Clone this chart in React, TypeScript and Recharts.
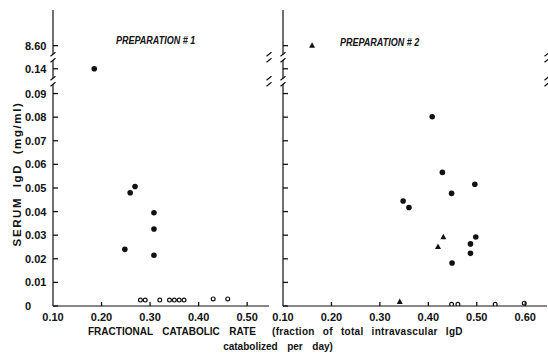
// Serum IgD vs fractional catabolic rate, two preparations. Broken y axis (0.14 and 8.60 squeezed on top).
import React from 'react'
import { ScatterChart, Scatter, XAxis, YAxis, ReferenceDot } from 'recharts'

// preparation #1
const p1FilledX = [0.185, 0.259, 0.269, 0.248, 0.308, 0.308, 0.308]
const p1FilledY = [0.14, 0.048, 0.0506, 0.024, 0.0395, 0.0326, 0.0215]
const p1OpenX = [0.28, 0.29, 0.32, 0.34, 0.35, 0.36, 0.37, 0.43, 0.46]
const p1OpenY = [0.0025, 0.0025, 0.0025, 0.0025, 0.0025, 0.0025, 0.0025, 0.003, 0.003]

// preparation #2
const p2FilledX = [0.408, 0.429, 0.496, 0.448, 0.348, 0.36, 0.498, 0.487, 0.487, 0.449]
const p2FilledY = [0.0802, 0.0566, 0.0516, 0.0477, 0.0445, 0.0417, 0.0292, 0.0263, 0.0223, 0.0182]
const p2TriX = [0.16, 0.431, 0.42, 0.341]
const p2TriY = [8.6, 0.0292, 0.0251, 0.0018]
const p2OpenX = [0.448, 0.461, 0.538, 0.598]
const p2OpenY = [0.0007, 0.0007, 0.0007, 0.0012]

const yTickValues = [0, 0.01, 0.02, 0.03, 0.04, 0.05, 0.06, 0.07, 0.08, 0.09, 0.14, 8.6]
const yTickLabels = ['0', '0.01', '0.02', '0.03', '0.04', '0.05', '0.06', '0.07', '0.08', '0.09', '0.14', '8.60']
const x1Ticks = [0.1, 0.2, 0.3, 0.4, 0.5]
const x2Ticks = [0.1, 0.2, 0.3, 0.4, 0.5, 0.6]

// broken scale: linear up to 0.09, then two short pieces for 0.14 and 8.60
function toAxis(v: number) {
  if (v <= 0.09) return v
  if (v < 1) return 0.1005 + (v - 0.14)
  return 0.1103 + (v - 8.6) * 0.01
}
const yTicks = yTickValues.map(toAxis)
const yBreaks = [(toAxis(0.09) + toAxis(0.14)) / 2, (toAxis(0.14) + toAxis(8.6)) / 2]
const yDomain = [0, 0.1254]

const pts = (xs: number[], ys: number[]) => xs.map((x, i) => ({ x, y: toAxis(ys[i]) }))

const INK = '#111'
const FONT = '"Liberation Sans", Arial, sans-serif'
const TICK_W = 1.3

const Dot = (p: any) => <circle cx={p.cx} cy={p.cy} r={2.8} fill={INK} />
const Ring = (p: any) => <circle cx={p.cx} cy={p.cy} r={1.9} fill="#fff" stroke={INK} strokeWidth={1.2} />
const Tri = (p: any) => (
  <path d={`M${p.cx},${p.cy - 3.3}L${p.cx + 3},${p.cy + 2.2}L${p.cx - 3},${p.cy + 2.2}Z`} fill={INK} />
)
const BreakMark = (p: any) => (
  <g>
    <rect x={p.cx - 3} y={p.cy - 3} width={6} height={6} fill="#fff" />
    <path d={`M${p.cx - 2.5},${p.cy - 1}L${p.cx + 2.5},${p.cy - 5}M${p.cx - 2.5},${p.cy + 5}L${p.cx + 2.5},${p.cy + 1}`}
      stroke={INK} strokeWidth={1.2} fill="none" />
  </g>
)

// tick renderers draw the inward tick line themselves (plus the label where needed)
const makeLeftTick = (labels: boolean) => (p: any) => {
  const i = yTicks.indexOf(p.payload.value)
  return (
    <g>
      <line x1={p.x + 3} x2={p.x + 8} y1={p.y} y2={p.y} stroke={INK} strokeWidth={TICK_W} />
      {labels && (
        <text x={p.x - 25} y={p.y} dy={4} fontSize={11} fontWeight="bold" fontFamily={FONT} fill={INK} textAnchor="start">
          {yTickLabels[i]}
        </text>
      )}
    </g>
  )
}
const RightTick = (p: any) => (
  <line x1={p.x - 5} x2={p.x} y1={p.y} y2={p.y} stroke={INK} strokeWidth={TICK_W} />
)
const TopTick = (p: any) =>
  p.index === 0 ? <g /> : <line x1={p.x} x2={p.x} y1={p.y} y2={p.y + 4} stroke={INK} strokeWidth={TICK_W} />
const BottomTick = (p: any) => (
  <g>
    {p.index > 0 && <line x1={p.x} x2={p.x} y1={p.y - 7} y2={p.y - 11} stroke={INK} strokeWidth={TICK_W} />}
    <text x={p.x} y={p.y} dy={8} fontSize={11} fontWeight="bold" fontFamily={FONT} fill={INK} textAnchor="middle">
      {p.payload.value.toFixed(2)}
    </text>
  </g>
)

const axisLine = { stroke: INK, strokeWidth: 1.2 }

function Panel({ left, width, rightMargin, yWidth, xDomain, xTicks, labels, children }: any) {
  return (
    <div style={{ position: 'absolute', left, top: 0 }}>
      <ScatterChart width={width} height={353} margin={{ top: 10, right: rightMargin, bottom: 0, left: 0 }}>
        <XAxis xAxisId="b" type="number" dataKey="x" domain={xDomain} ticks={xTicks} allowDataOverflow interval={0}
          tickSize={0} tickMargin={7} height={47} axisLine={axisLine} tickLine={false} tick={BottomTick} />
        <XAxis xAxisId="t" orientation="top" type="number" dataKey="x" domain={xDomain} ticks={xTicks}
          allowDataOverflow interval={0} height={0} tickSize={0} tickMargin={0} axisLine={axisLine} tickLine={false}
          tick={TopTick} />
        <YAxis yAxisId="l" type="number" dataKey="y" domain={yDomain} ticks={yTicks} allowDataOverflow interval={0}
          width={yWidth} tickSize={0} tickMargin={3} axisLine={axisLine} tickLine={false} tick={makeLeftTick(labels)} />
        <YAxis yAxisId="r" orientation="right" type="number" dataKey="y" domain={yDomain} ticks={yTicks}
          allowDataOverflow interval={0} width={0} tickSize={0} tickMargin={0} axisLine={axisLine} tickLine={false}
          tick={RightTick} />
        {children}
        {yBreaks.map(b => [
          <ReferenceDot key={'l' + b} xAxisId="b" yAxisId="l" x={xDomain[0]} y={b} shape={BreakMark} ifOverflow="visible" />,
          <ReferenceDot key={'r' + b} xAxisId="b" yAxisId="l" x={xDomain[1]} y={b} shape={BreakMark} ifOverflow="visible" />,
        ])}
      </ScatterChart>
    </div>
  )
}

export default function App() {
  const txt = { position: 'absolute' as const, fontFamily: FONT, color: INK, fontWeight: 'bold' as const, whiteSpace: 'pre' as const }
  return (
    <div style={{ position: 'absolute', left: 0, top: 0, width: 548, height: 353, background: '#fff', overflow: 'hidden' }}>
      <Panel left={0} width={275} rightMargin={6} yWidth={53} xDomain={[0.1, 0.545]} xTicks={x1Ticks} labels>
        <Scatter xAxisId="b" yAxisId="l" data={pts(p1FilledX, p1FilledY)} shape={Dot} isAnimationActive={false} />
        <Scatter xAxisId="b" yAxisId="l" data={pts(p1OpenX, p1OpenY)} shape={Ring} isAnimationActive={false} />
      </Panel>
      <Panel left={255} width={293} rightMargin={1} yWidth={28} xDomain={[0.1, 0.645]} xTicks={x2Ticks} labels={false}>
        <Scatter xAxisId="b" yAxisId="l" data={pts(p2FilledX, p2FilledY)} shape={Dot} isAnimationActive={false} />
        <Scatter xAxisId="b" yAxisId="l" data={pts(p2TriX, p2TriY)} shape={Tri} isAnimationActive={false} />
        <Scatter xAxisId="b" yAxisId="l" data={pts(p2OpenX, p2OpenY)} shape={Ring} isAnimationActive={false} />
      </Panel>

      <div style={{ ...txt, left: 116, top: 35, fontSize: 10, fontStyle: 'italic', transform: 'scaleX(0.9)', transformOrigin: 'left' }}>PREPARATION # 1</div>
      <div style={{ ...txt, left: 340, top: 37, fontSize: 10, fontStyle: 'italic', transform: 'scaleX(0.9)', transformOrigin: 'left' }}>PREPARATION # 2</div>

      <div style={{ ...txt, left: 17, top: 174, fontSize: 11.5, letterSpacing: 1.6, transform: 'translate(-50%, -50%) rotate(-90deg)' }}>
        SERUM  IgD  (mg/ml)
      </div>

      <div style={{ ...txt, left: 88, top: 326, fontSize: 10, wordSpacing: 2 }}>
        FRACTIONAL  CATABOLIC  RATE
      </div>
      <div style={{ ...txt, left: 272, top: 326, fontSize: 10, letterSpacing: 0.3, wordSpacing: 5 }}>
        (fraction of total intravascular IgD
      </div>
      <div style={{ ...txt, left: 278, top: 341, fontSize: 10, wordSpacing: 2, transform: 'translateX(-50%)' }}>
        catabolized  per  day)
      </div>
    </div>
  )
}
